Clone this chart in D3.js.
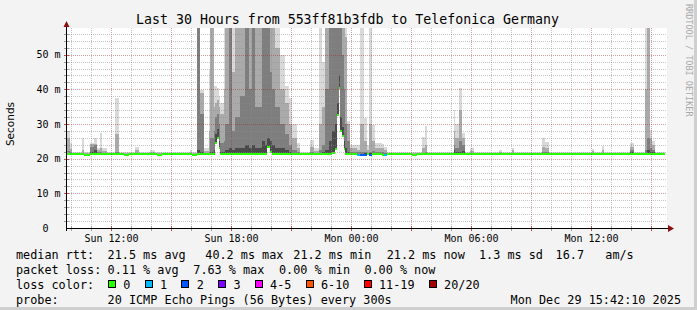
<!DOCTYPE html>
<html lang="en">
<head>
<meta charset="UTF-8">
<title>Last 30 Hours from 553ff81b3fdb to Telefonica Germany</title>
<style>
  body{margin:0;background:#f3f3f3}
  svg text{font-family:"DejaVu Sans Mono",monospace;fill:#000;white-space:pre}
</style>
</head>
<body>
<script src="https://cdn.jsdelivr.net/npm/d3@7"></script>
<script>
// window start, every run starts at a minute offset from here
var startStr = '2025-12-28T09:48'
var spanMin = 1800
var dataEndMin = 1795

// one entry per run of samples (ms); q13/q16/q19 = 13th/16th/19th of 20 sorted pings
var runStart = [0,10,15,45,50,70,80,90,100,105,120,145,155,170,185,205,215,250,265,270,285,370,375,
  390,400,410,425,430,440,445,450,455,460,470,475,485,495,505,520,535,545,555,565,585,595,600,610,615,625,640,655,665,675,690,
  700,730,740,755,765,775,785,795,805,810,815,820,825,830,835,840,850,870,880,890,900,905,915,925,945,950,960,
  1035,1050,1065,1075,1080,1160,1165,1175,1185,1195,1210,1220,1295,1305,1335,1340,1425,1435,1445,
  1575,1580,1605,1610,1690,1700,1735,1740,1750,1755,1765]
var median = [21.3,21.3,21.3,21.3,21.1,21.3,21.3,21.3,21.3,21.3,21.3,21.3,21.3,21.1,21.3,21.3,21.3,21.3,21.3,21.1,21.3,21.3,21.1,
  21.3,21.3,21.3,21.3,21.3,21.3,24.4,26.0,23.2,21.3,21.3,21.3,21.3,21.3,21.3,21.3,21.3,21.3,21.3,21.3,21.3,21.3,23.4,22.0,21.3,21.3,21.3,21.3,21.3,21.3,21.3,
  21.3,21.3,21.3,21.3,21.3,21.3,21.3,21.5,22.8,32.6,40.3,28.0,26.6,22.8,21.3,21.3,21.3,21.2,21.2,21.2,21.3,21.2,21.3,21.3,21.2,21.2,21.3,
  21.1,21.3,21.3,21.3,21.3,21.3,21.3,21.3,21.3,21.3,21.3,21.3,21.3,21.3,21.3,21.3,21.3,21.3,21.3,
  21.3,21.3,21.3,21.3,21.3,21.3,21.3,21.3,21.3,21.3,21.3]
var q13 = [21.6,21.5,21.4,21.4,21.2,22.0,22.5,21.6,21.5,21.4,21.4,21.5,21.4,21.2,21.4,21.4,21.4,21.4,21.4,21.2,21.4,21.4,21.2,
  22.5,22.0,21.4,21.5,22.0,22.5,27.0,28.5,25.0,22.0,22.0,22.5,23.0,22.5,23.0,23.0,24.0,23.0,24.0,23.0,25.0,24.0,26.0,25.0,24.0,23.0,23.0,22.5,22.0,21.6,21.5,
  21.4,21.5,21.4,21.6,21.8,22.5,25.0,28.0,30.0,36.0,44.0,32.0,29.0,25.0,23.0,22.0,21.5,21.4,21.4,21.5,21.4,21.5,21.5,21.4,21.4,21.4,21.4,
  21.2,21.4,21.4,21.5,21.4,22.5,21.8,22.0,22.2,21.4,21.4,21.4,21.4,21.4,21.4,21.4,21.5,21.4,21.4,
  21.4,21.4,21.4,21.4,22.0,21.4,21.6,22.5,22.0,21.8,21.4]
var q16 = [22.2,21.8,21.5,21.6,21.4,23.5,24.0,22.0,21.8,21.6,21.5,22.0,21.5,21.4,21.5,21.7,21.5,21.6,21.5,21.4,21.5,21.6,21.4,
  60,33.0,21.6,22.0,26.0,28.0,32.0,33.0,30.0,24.5,25.0,30.0,60,28.0,32.0,38.0,60,40.0,60,35.0,60,60,60,45.0,40.0,35.0,30.0,27.0,24.0,22.5,22.0,
  21.5,22.0,21.7,22.5,24.0,40.0,60,60,60,60,60,60,50.0,40.0,30.0,25.0,22.0,21.8,22.0,22.0,21.7,22.0,22.2,21.8,21.8,21.7,21.5,
  21.4,21.5,21.7,22.0,21.5,24.0,23.0,25.0,24.0,21.5,21.6,21.5,21.6,21.5,21.7,21.5,21.9,21.8,21.5,
  21.6,21.5,21.7,21.5,22.5,21.5,22.5,26.0,23.0,22.5,21.5]
var q19 = [25.9,22.8,21.7,22.5,21.6,24.2,24.2,22.5,23.0,22.2,21.7,27.2,21.7,21.6,21.7,22.5,21.7,22.0,21.7,21.6,21.7,22.0,21.6,
  60,39.0,22.2,28.0,60,35.0,36.0,37.0,35.0,33.0,40.0,60,60,45.0,60,60,60,60,60,60,60,60,60,60,60,52.0,40.0,36.0,30.0,26.0,23.0,
  21.7,23.5,22.3,30.0,35.0,60,60,60,60,60,60,60,60,60,55.0,30.0,23.0,22.5,30.0,25.0,22.5,30.0,25.0,23.0,23.0,22.5,21.7,
  21.6,21.7,23.0,24.0,21.7,28.0,26.0,34.0,26.0,21.7,22.2,21.7,22.0,21.7,22.5,21.7,23.5,23.0,21.7,
  22.2,21.7,22.5,21.7,23.5,21.7,40.0,60,26.0,24.0,21.7]
var qmax = [28.0,24.5,22.0,25.9,22.0,24.5,25.9,23.2,27.5,23.2,22.0,37.6,22.0,22.0,22.0,23.5,22.0,22.5,22.0,22.0,22.0,22.5,22.0,
  60,39.8,23.0,46.0,60,41.0,41.0,40.5,38.0,36.0,60,60,60,60,60,60,60,60,60,60,60,60,60,60,60,60,50.0,41.0,37.5,30.0,24.5,
  22.0,25.4,23.0,60,48.0,60,60,60,60,60,60,60,60,60,60,31.0,24.0,24.0,60,31.6,24.0,60,29.7,24.5,24.2,23.5,22.0,
  22.0,22.0,26.3,29.5,22.0,34.0,30.0,40.3,27.4,22.0,23.0,22.0,22.6,22.0,23.2,22.0,26.0,24.9,22.0,
  22.8,22.0,23.7,22.0,24.6,22.0,60,60,28.3,25.2,22.0]
// lost pings (of 20) per run
var loss = [0,0,0,0,0,0,0,0,0,0,0,0,0,0,0,0,0,0,0,0,0,0,0,
  0,0,0,0,0,0,0,0,0,0,0,0,0,0,0,0,0,0,0,0,0,0,0,0,0,0,0,0,0,0,0,
  0,0,0,0,0,0,0,0,0,0,0,0,0,0,0,0,0,1,2,2,0,2,0,0,0,1,0,
  0,0,0,0,0,0,0,0,0,0,0,0,0,0,0,0,0,0,0,
  0,0,0,0,0,0,0,0,0,0,0]

var yMax = 57.7
var yTicks = [0,10,20,30,40,50]
var yTickLabels = ['0','10 m','20 m','30 m','40 m','50 m']
var xTickTimes = ['2025-12-28T12:00','2025-12-28T18:00','2025-12-29T00:00','2025-12-29T06:00','2025-12-29T12:00']
var xTickLabels = ['Sun 12:00','Sun 18:00','Mon 00:00','Mon 06:00','Mon 12:00']

var lossLabels = ['0','1','2','3','4-5','6-10','11-19','20/20']
var lossColors = ['#26ff00','#00b8ff','#0059ff','#7e00ff','#ff00ff','#ff5500','#ff0000','#a10000']
var rttStats = ['21.5 ms avg','40.2 ms max','21.2 ms min','21.2 ms now','1.3 ms sd','16.7   am/s']
var lossStats = ['0.11 % avg','7.63 % max','0.00 % min','0.00 % now']
var probeText = '20 ICMP Echo Pings (56 Bytes) every 300s'
var stamp = 'Mon Dec 29 15:42:10 2025'
var title = 'Last 30 Hours from 553ff81b3fdb to Telefonica Germany'

var width=697,height=310
var pad={left:67,right:667,top:28,bottom:228}
var parseT=d3.timeParse('%Y-%m-%dT%H:%M')
var t0=parseT(startStr)
function atMin(m){return d3.timeMinute.offset(t0,m)}

var svg=d3.select('body').append('svg').attr('width',width).attr('height',height)
svg.append('rect').attr('width',width).attr('height',height).attr('fill','#f3f3f3')
svg.append('rect').attr('x',width-3).attr('width',3).attr('height',height).attr('fill','#cfcfcf')
svg.append('rect').attr('y',height-3).attr('width',width).attr('height',3).attr('fill','#cfcfcf')
svg.append('rect').attr('x',pad.left).attr('y',pad.top).attr('width',pad.right-pad.left).attr('height',pad.bottom-pad.top).attr('fill','#fff')

var x=d3.scaleTime().domain([t0,atMin(spanMin)]).range([pad.left,pad.right])
var y=d3.scaleLinear().domain([0,yMax]).range([pad.bottom,pad.top])

svg.append('clipPath').attr('id','plotclip').append('rect')
    .attr('x',pad.left).attr('y',pad.top).attr('width',pad.right-pad.left).attr('height',pad.bottom-pad.top)

var runs=runStart.map(function(s,i){
    var e=i<runStart.length-1?runStart[i+1]:dataEndMin
    return {i:i,a:atMin(s),b:atMin(e)}
})

// smoke, outer bands light, inner dark
var bands=[[median,q13,'#4a4a4a'],[q13,q16,'#7e7e7e'],[q16,q19,'#aaaaaa'],[q19,qmax,'#d9d9d9']]
var smoke=svg.append('g').attr('clip-path','url(#plotclip)').attr('shape-rendering','crispEdges')
bands.forEach(function(b){
    smoke.selectAll(null).data(runs).enter().append('rect')
        .attr('x',d=>x(d.a))
        .attr('width',d=>x(d.b)-x(d.a))
        .attr('y',d=>y(Math.min(b[1][d.i],yMax+1)))
        .attr('height',d=>Math.max(0,y(b[0][d.i])-y(Math.min(b[1][d.i],yMax+1))))
        .attr('fill',b[2])
})

function lossIndex(n){
    if(n<=3) return n
    if(n<=5) return 4
    if(n<=10) return 5
    if(n<=19) return 6
    return 7
}
smoke.selectAll(null).data(runs).enter().append('rect')
    .attr('x',d=>x(d.a))
    .attr('width',d=>x(d.b)-x(d.a))
    .attr('y',d=>y(median[d.i])-1)
    .attr('height',2)
    .attr('fill',d=>lossColors[lossIndex(loss[d.i])])

// grid on top, like rrdtool
var grid=svg.append('g').attr('shape-rendering','crispEdges').attr('stroke-dasharray','1,1')
var minorC='rgba(140,140,140,0.5)', majorC='rgba(160,40,40,0.45)'
var hours=x.ticks(d3.timeHour.every(1))
grid.selectAll(null).data(hours).enter().append('line')
    .attr('x1',d=>Math.round(x(d))+0.5).attr('x2',d=>Math.round(x(d))+0.5)
    .attr('y1',pad.top).attr('y2',pad.bottom)
    .attr('stroke',d=>d.getHours()%3==0?majorC:minorC)
var ms=d3.range(2,yMax,2)
grid.selectAll(null).data(ms).enter().append('line')
    .attr('x1',pad.left).attr('x2',pad.right)
    .attr('y1',d=>Math.round(y(d))+0.5).attr('y2',d=>Math.round(y(d))+0.5)
    .attr('stroke',d=>d%10==0?majorC:minorC)

// ticks on the axes
var ticks=svg.append('g').attr('shape-rendering','crispEdges')
ticks.selectAll(null).data(hours).enter().append('line')
    .attr('x1',d=>Math.round(x(d))+0.5).attr('x2',d=>Math.round(x(d))+0.5)
    .attr('y1',pad.bottom-2).attr('y2',pad.bottom+3)
    .attr('stroke',d=>d.getHours()%3==0?'#c05050':'#a0a0a0')
ticks.selectAll(null).data(ms).enter().append('line')
    .attr('x1',pad.left-3).attr('x2',pad.left+2)
    .attr('y1',d=>Math.round(y(d))+0.5).attr('y2',d=>Math.round(y(d))+0.5)
    .attr('stroke',d=>d%10==0?'#c05050':'#a0a0a0')

// axes lines and arrows
svg.append('line').attr('x1',pad.left-0.5).attr('x2',pad.right+5).attr('y1',pad.bottom+0.5).attr('y2',pad.bottom+0.5)
    .attr('stroke','#000').attr('shape-rendering','crispEdges')
svg.append('line').attr('x1',pad.left-0.5).attr('x2',pad.left-0.5).attr('y1',pad.bottom+3).attr('y2',pad.top-5)
    .attr('stroke','#000').attr('shape-rendering','crispEdges')
svg.append('path').attr('d','M'+(pad.right+1)+','+(pad.bottom-3)+'L'+(pad.right+7)+','+(pad.bottom+0.5)+'L'+(pad.right+1)+','+(pad.bottom+4)+'Z')
    .attr('fill','#8b1010')
svg.append('path').attr('d','M'+(pad.left-3.5)+','+(pad.top-1)+'L'+(pad.left-0.5)+','+(pad.top-7)+'L'+(pad.left+2.5)+','+(pad.top-1)+'Z')
    .attr('fill','#8b1010')

// axis labels
var xAxis=d3.axisBottom(x).tickValues(xTickTimes.map(parseT)).tickFormat((d,i)=>xTickLabels[i]).tickSize(0).tickPadding(6.5)
svg.append('g').attr('transform','translate(0,'+pad.bottom+')').call(xAxis)
    .call(g=>g.select('.domain').remove())
    .selectAll('text').attr('font-family','DejaVu Sans Mono').attr('font-size',10).attr('fill','#000')

var yAxis=d3.axisLeft(y).tickValues(yTicks)
    .tickFormat((d,i)=>yTickLabels[i].length<4?yTickLabels[i]+'\u00a0\u00a0':yTickLabels[i])
    .tickSize(0).tickPadding(6.5)
svg.append('g').attr('transform','translate('+pad.left+',0)').call(yAxis)
    .call(g=>g.select('.domain').remove())
    .selectAll('text').attr('font-family','DejaVu Sans Mono').attr('font-size',10).attr('fill','#000')

svg.append('text').attr('transform','translate(14,124) rotate(-90)').attr('text-anchor','middle')
    .style('font-family','DejaVu Sans').attr('font-size',10.5).text('Seconds')

svg.append('text').attr('x',347.5).attr('y',23.5).attr('text-anchor','middle').attr('font-size',13.25).text(title)

svg.append('text').attr('transform','translate(685.5,4) rotate(90)').attr('font-size',8.5)
    .style('fill','#a8a8a8').text('RRDTOOL / TOBI OETIKER')

// legend
var lg=svg.append('g').attr('font-size',11.8)
var rows=[259,274,289,304]
function line(xp,yp,s){
    return lg.append('text').attr('x',xp).attr('y',yp).attr('xml:space','preserve').text(s.replace(/ /g,'\u00a0'))
}
line(16,rows[0],'median rtt:')
var rttX=[107.6,205.3,293.3,386.7,479,555.6]
rttStats.forEach((s,i)=>line(rttX[i],rows[0],s))
line(16,rows[1],'packet loss:')
var lossX=[107.6,193.3,279,364.4]
lossStats.forEach((s,i)=>line(lossX[i],rows[1],s))
line(16,rows[2],'loss color:')
var cx=108
lossLabels.forEach(function(l,i){
    lg.append('rect').attr('x',cx+0.5).attr('y',rows[2]-8.5).attr('width',7).attr('height',7)
        .attr('fill',lossColors[i]).attr('stroke','#000').attr('shape-rendering','crispEdges')
    line(cx+15.3,rows[2],l)
    cx=cx+15.3+l.length*7.1+14.3
})
line(16,rows[3],'probe:')
line(107.6,rows[3],probeText)
line(681,rows[3],stamp).attr('text-anchor','end')
</script>
</body>
</html>
